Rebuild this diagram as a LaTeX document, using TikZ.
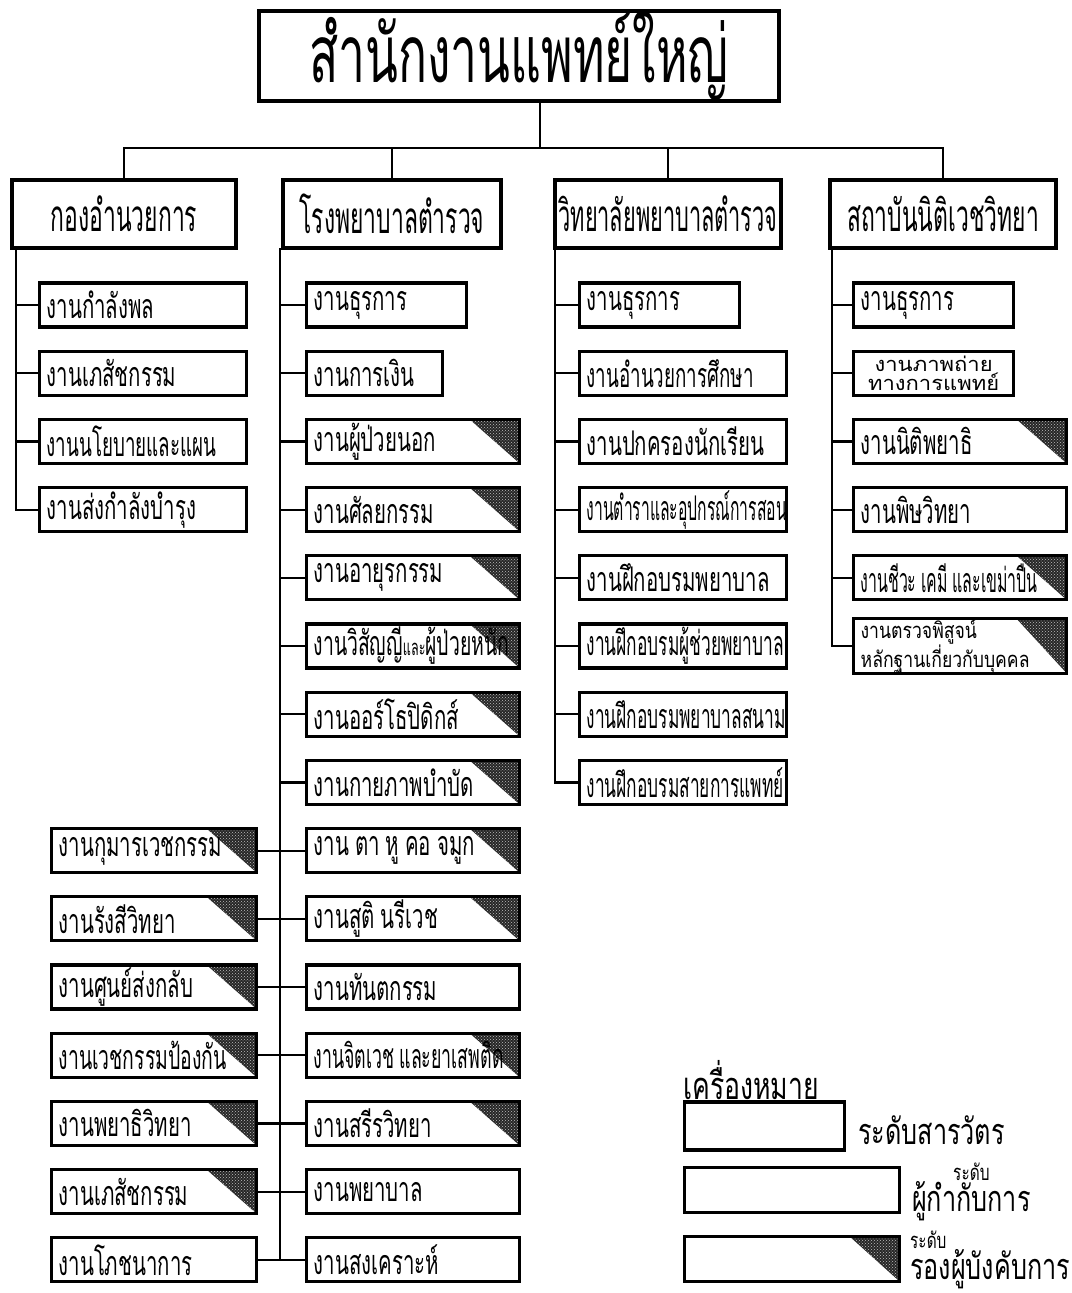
\documentclass[tikz,border=0pt]{standalone}
\usepackage{fontspec}
\newfontfamily\thai[Script=Thai,FakeStretch=0.6]{Loma}
\newfontfamily\thain[Script=Thai,FakeStretch=0.52]{Loma}
\newfontfamily\thaiw[Script=Thai,FakeStretch=0.8]{Loma}
\newfontfamily\thail[Script=Thai,FakeStretch=0.7]{Loma}
\newfontfamily\thaiv[Script=Thai,FakeStretch=1.1]{Loma}
\usetikzlibrary{patterns}
\newcommand\subfont{\thai\fontsize{34}{36}\selectfont}
\newcommand\sq[2]{\scalebox{#1}[1]{#2}}
\newcommand\tsp{\hspace{6pt}}
\begin{document}
\begin{tikzpicture}[x=1pt,y=-1pt,
  conn/.style={line width=2.2pt},
  bx/.style={draw, line width=3.3pt, anchor=west, align=left, minimum height=44pt,
    inner xsep=7pt, inner ysep=0pt, text width=#1, font=\subfont},
  bx/.default=193pt,
  dark/.style={path picture={
    \fill[black!85] ([xshift=-50pt]path picture bounding box.north east) -- (path picture bounding box.north east) -- (path picture bounding box.south east) -- cycle;
    \fill[pattern=crosshatch dots, pattern color=white!75!black] ([xshift=-50pt]path picture bounding box.north east) -- (path picture bounding box.north east) -- (path picture bounding box.south east) -- cycle;
  }},
  head/.style={draw, line width=3.3pt, minimum height=68pt, inner sep=0pt, font=\thain\fontsize{44}{46}\selectfont},
]
\useasboundingbox[fill=white] (0,0) rectangle (1071,1293);

% title
\node[draw, line width=3.3pt, minimum width=520pt, minimum height=88pt, inner sep=0pt,
  font=\thai\fontsize{80}{84}\selectfont] (top) at (519,56) {สำนักงานแพทย์ใหญ่};

% level 2
\node[head, minimum width=224pt] (L1) at (124,214) {กองอำนวยการ};
\node[head, minimum width=218pt] (L2) at (392,214) {โรงพยาบาลตำรวจ};
\node[head, minimum width=226pt] (L3) at (668,214) {\sq{0.95}{วิทยาลัยพยาบาลตำรวจ}};
\node[head, minimum width=226pt] (L4) at (943,214) {สถาบันนิติเวชวิทยา};

\coordinate (bus) at (540,148);
\draw[conn] (bus |- top.south) -- (bus);
\draw[conn] (L1.north) |- (L4.north |- bus) -- (L4.north);
\draw[conn] (L2.north) -- (L2.north |- bus);
\draw[conn] (L3.north) -- (L3.north |- bus);

% column 1
\node[bx] (a1) at (38,305) {งานกำลังพล};
\node[bx] (a2) at (38,373.2) {งานเภสัชกรรม};
\node[bx] (a3) at (38,441.4) {\sq{0.92}{งานนโยบายและแผน}};
\node[bx] (a4) at (38,509.6) {งานส่งกำลังบำรุง};
\coordinate (t1) at (16,248);
\draw[conn] (t1) |- (a4.west);
\foreach \n in {a1,a2,a3} \draw[conn] (t1 |- \n.west) -- (\n.west);

% column 2 right
\node[bx=146pt] (b0) at (305,305) {งานธุรการ};
\node[bx=122pt] (b1) at (305,373.2) {งานการเงิน};
\node[bx=199pt,dark] (b2) at (305,441.4) {งานผู้ป่วยนอก};
\node[bx=199pt,dark] (b3) at (305,509.6) {งานศัลยกรรม};
\node[bx=199pt,dark] (b4) at (305,577.8) {งานอายุรกรรม};
\node[bx=199pt,dark] (b5) at (305,646) {\sq{0.95}{งานวิสัญญี{\fontsize{22}{24}\selectfont และ}ผู้ป่วยหนัก}};
\node[bx=199pt,dark] (b6) at (305,714.2) {งานออร์โธปิดิกส์};
\node[bx=199pt,dark] (b7) at (305,782.4) {งานกายภาพบำบัด};
\node[bx=199pt,dark] (b8) at (305,850.6) {งาน\tsp ตา\tsp หู\tsp คอ\tsp จมูก};
\node[bx=199pt,dark] (b9) at (305,918.8) {งานสูติ\tsp นรีเวช};
\node[bx=199pt] (b10) at (305,987) {งานทันตกรรม};
\node[bx=199pt,dark] (b11) at (305,1055.2) {\sq{0.87}{งานจิตเวช\tsp และยาเสพติด}};
\node[bx=199pt,dark] (b12) at (305,1123.4) {งานสรีรวิทยา};
\node[bx=199pt] (b13) at (305,1191.6) {งานพยาบาล};
\node[bx=199pt] (b14) at (305,1259.8) {งานสงเคราะห์};

% column 2 left
\node[bx=191pt,dark] (c8) at (50,850.6) {งานกุมารเวชกรรม};
\node[bx=191pt,dark] (c9) at (50,918.8) {งานรังสีวิทยา};
\node[bx=191pt,dark] (c10) at (50,987) {งานศูนย์ส่งกลับ};
\node[bx=191pt,dark] (c11) at (50,1055.2) {\sq{0.95}{งานเวชกรรมป้องกัน}};
\node[bx=191pt,dark] (c12) at (50,1123.4) {งานพยาธิวิทยา};
\node[bx=191pt,dark] (c13) at (50,1191.6) {งานเภสัชกรรม};
\node[bx=191pt] (c14) at (50,1259.8) {งานโภชนาการ};

\coordinate (t2) at (280,248);
\draw[conn] (t2) |- (b14.west);
\foreach \n in {b0,b1,b2,b3,b4,b5,b6,b7,b8,b9,b10,b11,b12,b13} \draw[conn] (t2 |- \n.west) -- (\n.west);
\foreach \n in {c8,c9,c10,c11,c12,c13,c14} \draw[conn] (\n.east) -- (t2 |- \n.east);

% column 3
\node[bx=146pt] (d0) at (578,305) {งานธุรการ};
\node[bx] (d1) at (578,373.2) {\sq{0.92}{งานอำนวยการศึกษา}};
\node[bx] (d2) at (578,441.4) {งานปกครองนักเรียน};
\node[bx] (d3) at (578,509.6) {\sq{0.77}{งานตำราและอุปกรณ์การสอน}};
\node[bx] (d4) at (578,577.8) {งานฝึกอบรมพยาบาล};
\node[bx] (d5) at (578,646) {\sq{0.85}{งานฝึกอบรมผู้ช่วยพยาบาล}};
\node[bx] (d6) at (578,714.2) {\sq{0.85}{งานฝึกอบรมพยาบาลสนาม}};
\node[bx] (d7) at (578,782.4) {\sq{0.85}{งานฝึกอบรมสายการแพทย์}};
\coordinate (t3) at (555,248);
\draw[conn] (t3) |- (d7.west);
\foreach \n in {d0,d1,d2,d3,d4,d5,d6} \draw[conn] (t3 |- \n.west) -- (\n.west);

% column 4
\node[bx=146pt] (e0) at (852,305) {งานธุรการ};
\node[bx=146pt, font=\thaiv\fontsize{20}{16}\selectfont, align=center] (e1) at (852,373.2) {งานภาพถ่าย\\ทางการแพทย์};
\node[bx=199pt,dark] (e2) at (852,441.4) {งานนิติพยาธิ};
\node[bx=199pt] (e3) at (852,509.6) {งานพิษวิทยา};
\node[bx=199pt,dark] (e4) at (852,577.8) {\sq{0.78}{งานชีวะ\tsp เคมี\tsp และเขม่าปืน}};
\node[bx=199pt,dark, font=\thaiw\fontsize{22}{15}\selectfont] (e5) at (852,646) {งานตรวจพิสูจน์\\หลักฐานเกี่ยวกับบุคคล};
\coordinate (t4) at (832,248);
\draw[conn] (t4) |- (e5.west);
\foreach \n in {e0,e1,e2,e3,e4} \draw[conn] (t4 |- \n.west) -- (\n.west);

% legend
\node[anchor=west, inner sep=0pt, font=\thail\fontsize{38}{40}\selectfont] (lgt) at (683,1080) {เครื่องหมาย};
\node[bx=146pt, minimum height=48pt] (g1) at (683,1126) {};
\node[bx=201pt, minimum height=45pt] (g2) at (683,1190) {};
\node[bx=201pt, minimum height=45pt, dark] (g3) at (683,1259) {};
\node[anchor=west, inner sep=0pt, font=\thail\fontsize{36}{38}\selectfont] (g1t) at (858,1130) {ระดับสารวัตร};
\node[anchor=west, inner sep=0pt, align=center, font=\thail\fontsize{36}{24}\selectfont] (g2t) at (912,1192) {{\fontsize{22}{20}\selectfont ระดับ}\\ผู้กำกับการ};
\node[anchor=west, inner sep=0pt, align=left, font=\thail\fontsize{36}{24}\selectfont] (g3t) at (910,1260) {{\fontsize{22}{20}\selectfont ระดับ}\\รองผู้บังคับการ};
\end{tikzpicture}
\end{document}
